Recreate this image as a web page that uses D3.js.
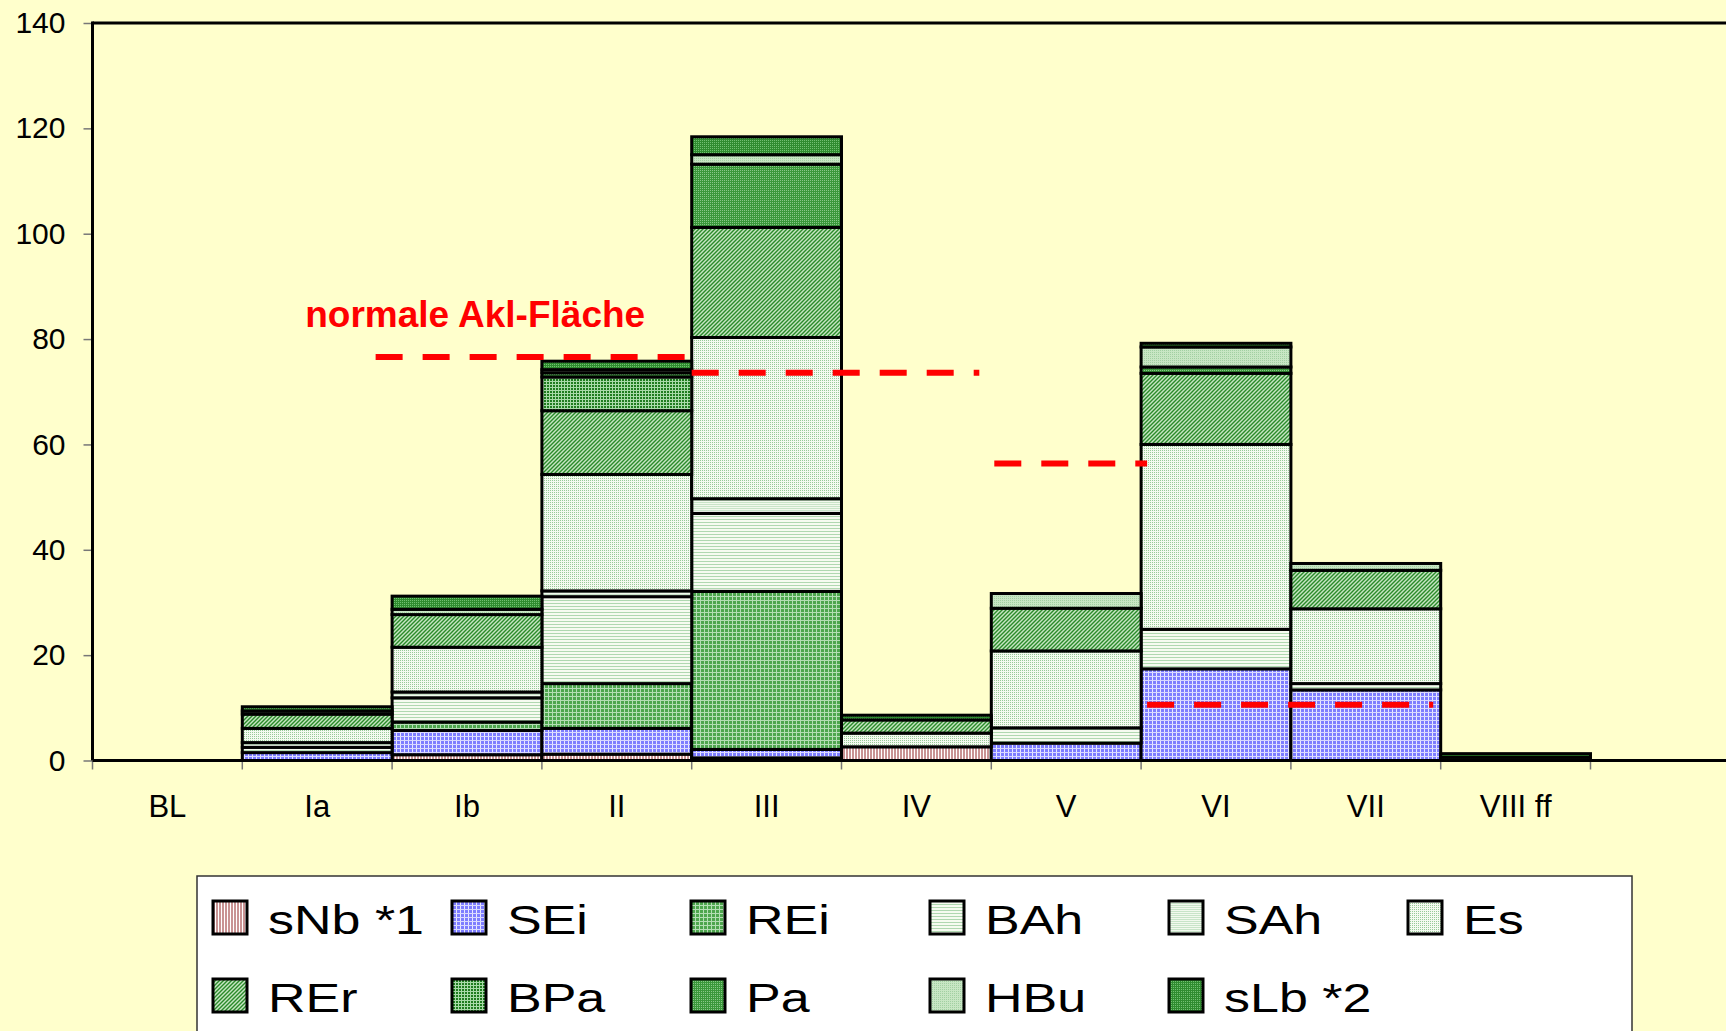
<!DOCTYPE html>
<html>
<head>
<meta charset="utf-8">
<script src="https://cdn.jsdelivr.net/npm/d3@7"></script>
<style>
  body { margin: 0; background: #ffffcc; }
  svg { display: block; font-family: "Liberation Sans", Arial, sans-serif; }
</style>
</head>
<body>
<div id="chart"></div>
<script>
// categories (x axis)
var categories = ["BL", "Ia", "Ib", "II", "III", "IV", "V", "VI", "VII", "VIII ff"];

// one array per stacked series, bottom to top
var sNb = [0, 0, 1.1, 1.2, 0.5, 2.6, 0, 0, 0, 0];
var SEi = [0, 1.5, 4.6, 4.9, 1.6, 0, 3.3, 17.4, 13.4, 0];
var REi = [0, 0, 1.6, 8.5, 30.0, 0, 0, 0, 0, 0];
var BAh = [0, 1.0, 4.6, 16.5, 14.8, 0, 2.9, 7.5, 1.2, 0];
var SAh = [0, 0.9, 1.1, 1.1, 2.8, 0, 0, 0, 0, 0];
var Es = [0, 2.7, 8.5, 22.1, 30.6, 2.6, 14.6, 35.1, 14.2, 0];
var REr = [0, 2.7, 6.2, 12.1, 20.9, 2.5, 8.1, 13.5, 7.3, 0];
var BPa = [0, 0, 0, 6.4, 0, 0, 0, 0, 0, 0];
var Pa = [0, 0, 0, 0.8, 12.0, 0, 0, 1.2, 0, 0.6];
var HBu = [0, 0.6, 1.0, 0.6, 1.8, 0, 2.8, 3.8, 1.3, 0];
var sLb = [0, 0.8, 2.5, 1.6, 3.4, 0.9, 0, 0.7, 0, 0.7];

var seriesNames = ["sNb *1", "SEi", "REi", "BAh", "SAh", "Es", "REr", "BPa", "Pa", "HBu", "sLb *2"];
var seriesValues = [sNb, SEi, REi, BAh, SAh, Es, REr, BPa, Pa, HBu, sLb];

var yTicks = [0, 20, 40, 60, 80, 100, 120, 140];

// "normale Akl-Fläche" dashed segments (x in category units)
var aklFrom = [1.89, 4.0, 6.02, 7.04];
var aklTo = [4.0, 5.92, 7.04, 8.95];
var aklValue = [76.6, 73.6, 56.4, 10.6];

var width = 1726, height = 1031;
var plotLeft = 92.5, plotTop = 23, plotBottom = 760.5, bandW = 149.8;

var svg = d3.select("#chart").append("svg")
    .attr("width", width)
    .attr("height", height);

svg.append("rect").attr("width", width).attr("height", height).attr("fill", "#ffffcc");

// fill patterns, one per series
var defs = svg.append("defs");
function pattern(id, w, h, base, parts) {
  var p = defs.append("pattern").attr("id", id)
      .attr("patternUnits", "userSpaceOnUse")
      .attr("width", w).attr("height", h);
  p.append("rect").attr("width", w).attr("height", h).attr("fill", base);
  parts.forEach(function(r) {
    if (r.path) {
      p.append("path").attr("d", r.path).attr("stroke", r.c).attr("stroke-width", r.sw).attr("fill", "none");
    } else {
      p.append("rect").attr("x", r[0]).attr("y", r[1]).attr("width", r[2]).attr("height", r[3]).attr("fill", r[4]);
    }
  });
}
pattern("p0", 3, 3, "#ffffff", [[0, 0, 2, 3, "#c99393"]]);
pattern("p1", 4, 4, "#7d7dff", [[0, 0, 1, 4, "#e8e8ff"], [0, 0, 4, 1, "#d8d8ff"]]);
pattern("p2", 4, 4, "#4ea64e", [[0, 0, 1, 4, "#b4deb4"], [0, 0, 4, 1, "#b4deb4"]]);
pattern("p3", 3, 3, "#f6fbf0", [[0, 0, 3, 1, "#b0d8b0"]]);
pattern("p4", 2, 2, "#f2f9ee", [[0, 0, 2, 1, "#c8e4c8"]]);
pattern("p5", 2, 2, "#f4faf0", [[0, 0, 1, 1, "#98ca98"]]);
pattern("p6", 4, 4, "#c6e6c2", [{path: "M-1,1 L1,-1 M0,4 L4,0 M3,5 L5,3", c: "#2a8a2a", sw: 1.4}]);
pattern("p7", 3, 3, "#1f7c1f", [[0, 0, 1, 3, "#a8daa8"], [0, 0, 3, 1, "#a8daa8"]]);
pattern("p8", 2, 2, "#3a983a", [[0, 0, 1, 1, "#88c888"]]);
pattern("p9", 2, 2, "#c8e6c4", [[0, 0, 1, 1, "#a2d0a2"]]);
pattern("p10", 2, 2, "#2f8c2f", [[0, 0, 1, 1, "#72c072"]]);

var x = d3.scaleBand().domain(categories).range([plotLeft, plotLeft + categories.length * bandW]).padding(0);
var xi = d3.scaleLinear().domain([0, categories.length]).range(x.range());
var y = d3.scaleLinear().domain([0, 140]).range([plotBottom, plotTop]);

// table for d3.stack
var table = categories.map(function(c, j) {
  var row = { cat: c };
  seriesNames.forEach(function(n, k) { row[n] = seriesValues[k][j]; });
  return row;
});
var stacked = d3.stack().keys(seriesNames)(table);

// frame: top line
svg.append("line").attr("x1", plotLeft).attr("x2", width + 10).attr("y1", plotTop).attr("y2", plotTop)
    .attr("stroke", "#000").attr("stroke-width", 3);

var layers = svg.selectAll(".layer")
    .data(stacked)
    .enter().append("g")
    .attr("class", "layer")
    .attr("fill", function(d, i) { return "url(#p" + i + ")"; });

layers.selectAll("rect")
    .data(function(d) { return d.filter(function(s) { return s[1] - s[0] > 0; }); })
    .enter().append("rect")
    .attr("x", function(d) { return x(d.data.cat); })
    .attr("y", function(d) { return y(d[1]); })
    .attr("width", x.bandwidth())
    .attr("height", function(d) { return y(d[0]) - y(d[1]); })
    .attr("stroke", "#000")
    .attr("stroke-width", 3);

// y axis
var yAxis = svg.append("g")
    .attr("transform", "translate(" + plotLeft + ",0)")
    .call(d3.axisLeft(y).tickValues(yTicks).tickSize(9).tickPadding(18));
yAxis.select(".domain").remove();
yAxis.selectAll(".tick line").attr("stroke", "#777").attr("stroke-width", 1.5);
yAxis.selectAll("text").attr("font-size", 30).attr("fill", "#000")
    .attr("font-family", "'Liberation Sans', Arial, sans-serif");
svg.append("line").attr("x1", plotLeft).attr("x2", plotLeft).attr("y1", plotTop - 1.5).attr("y2", plotBottom)
    .attr("stroke", "#000").attr("stroke-width", 3);

// x axis: labels centred in bands, ticks on the category borders
var xAxis = svg.append("g")
    .attr("transform", "translate(0," + plotBottom + ")")
    .call(d3.axisBottom(x).tickSize(0).tickPadding(34));
xAxis.select(".domain").remove();
xAxis.selectAll("text").attr("font-size", 31).attr("fill", "#000")
    .attr("font-family", "'Liberation Sans', Arial, sans-serif");

svg.selectAll(".xtick")
    .data(d3.range(categories.length + 1))
    .enter().append("line")
    .attr("class", "xtick")
    .attr("x1", function(d) { return xi(d); })
    .attr("x2", function(d) { return xi(d); })
    .attr("y1", plotBottom)
    .attr("y2", plotBottom + 9)
    .attr("stroke", "#777")
    .attr("stroke-width", 1.5);

svg.append("line").attr("x1", plotLeft).attr("x2", width + 10).attr("y1", plotBottom).attr("y2", plotBottom)
    .attr("stroke", "#000").attr("stroke-width", 3);

// red dashed reference lines
svg.selectAll(".akl")
    .data(aklValue)
    .enter().append("line")
    .attr("class", "akl")
    .attr("x1", function(d, i) { return xi(aklFrom[i]); })
    .attr("x2", function(d, i) { return xi(aklTo[i]); })
    .attr("y1", function(d) { return y(d); })
    .attr("y2", function(d) { return y(d); })
    .attr("stroke", "#ff0000")
    .attr("stroke-width", 6)
    .attr("stroke-dasharray", "27,20");

svg.append("text")
    .attr("x", xi(1.42))
    .attr("y", y(82.3))
    .attr("fill", "#ff0000")
    .attr("font-size", 37)
    .attr("font-weight", "bold")
    .text("normale Akl-Fläche");

// legend
var legend = svg.append("g");
legend.append("rect")
    .attr("x", 197).attr("y", 876)
    .attr("width", 1435).attr("height", 180)
    .attr("fill", "#ffffff")
    .attr("stroke", "#333").attr("stroke-width", 1.5);

var item = legend.selectAll(".item")
    .data(seriesNames)
    .enter().append("g")
    .attr("class", "item")
    .attr("transform", function(d, i) {
      return "translate(" + (213 + (i % 6) * 239) + "," + (901 + Math.floor(i / 6) * 78) + ")";
    });

item.append("rect")
    .attr("width", 34).attr("height", 33)
    .attr("fill", function(d, i) { return "url(#p" + i + ")"; })
    .attr("stroke", "#000").attr("stroke-width", 3);

item.append("text")
    .attr("transform", "translate(55,33) scale(1.3,1)")
    .attr("font-size", 40)
    .attr("fill", "#000")
    .text(function(d) { return d; });
</script>
</body>
</html>
